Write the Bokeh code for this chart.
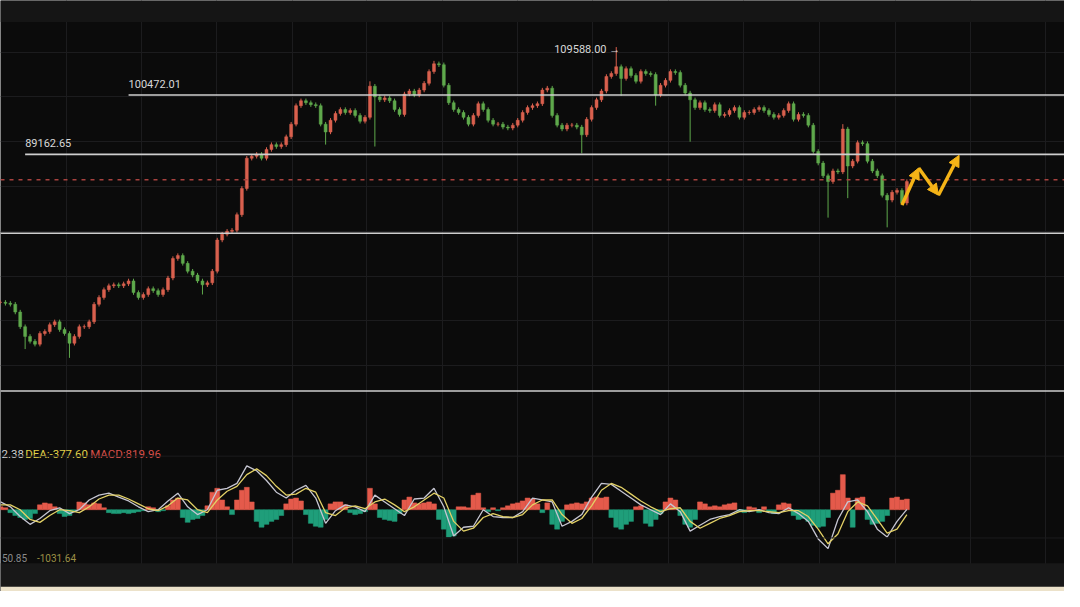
from bokeh.plotting import figure
from bokeh.models import Range1d, FixedTicker, BoxAnnotation, Span, Arrow, NormalHead
from bokeh.core.properties import value
from bokeh.embed import file_html
from bokeh.resources import INLINE

# ---------------- data ----------------
closes = [60980, 60790, 60610, 59130, 56340, 54490, 53560, 53010, 55050, 55420,
          56720, 57270, 55790, 55050, 53190, 54490, 56340, 56340, 57270, 60610,
          61910, 63390, 64130, 64320, 64130, 64500, 65060, 62830, 61910, 62460,
          63580, 63200, 62460, 63390, 65610, 69320, 69880, 68400, 66910, 66170,
          65060, 64320, 64690, 66910, 72850, 73960, 74510, 74700, 77670, 82670,
          88420, 88790, 89160, 88420, 90090, 91010, 90640, 91010, 92500, 94910,
          98430, 99360, 98990, 98620, 98430, 94910, 93420, 95650, 96950, 97690,
          97130, 97500, 96580, 95460, 96210, 102140, 100100, 99540, 99910, 99360,
          97690, 96760, 100660, 101210, 100470, 101400, 102690, 104920, 106400, 106220,
          102320, 98990, 97690, 97130, 96210, 94910, 96580, 98800, 97690, 95650,
          94910, 94910, 94350, 94170, 94720, 95650, 97130, 98060, 98430, 98800,
          101400, 101770, 96580, 94720, 93980, 94720, 94720, 94350, 92870, 95830,
          98060, 99540, 101210, 103990, 104550, 105850, 103620, 105480, 104180, 103070,
          104920, 104550, 104360, 100470, 102320, 103250, 104920, 104730, 102320, 100840,
          99540, 98060, 98990, 97690, 97500, 98620, 96580, 96760, 97500, 98060,
          96210, 97130, 97130, 97690, 98060, 97500, 96760, 96210, 96580, 97500,
          98800, 95830, 96760, 96580, 94720, 89720, 87490, 85080, 83970, 86010,
          85820, 93980, 86940, 87860, 91390, 91200, 87860, 86010, 85080, 81370,
          80450, 81930, 82300, 79890, 83970]

spike_low = {5: 52080, 14: 50410, 41: 62470, 66: 91020, 76: 90650, 118: 89350,
             126: 100290, 133: 98430, 140: 91570, 168: 77110, 172: 80820, 180: 75260}
spike_high = {75: 103070, 88: 106960, 125: 109588, 171: 94910}
wick = 420

ath_value = 109588.00
ath_index = 125

levels = [100472.01, 89162.65, 74145.0, 44110.0]
level_start = [26, 5, 0, 0]
level_text = ["100472.01", "89162.65"]
dash_level = 84342.0

# projected zig-zag path (index, price)
proj_x = [183, 186.4, 190.4, 194.6]
proj_y = [79520, 86570, 81380, 88980]

# MACD histogram, one value per candle
hist = [225, 150, -225, -450, -600, -750, -675, -300, 375, 525,
        450, 225, -300, -525, -450, -150, 600, 525, 375, 525,
        450, 150, -225, -300, -300, -225, -300, -225, -150, -75,
        225, 150, -150, -75, 300, 750, 900, -600, -975, -750,
        -675, -450, 300, 1350, 1650, 750, 225, -375, 750, 1500,
        1725, 600, -900, -1350, -1125, -900, -750, -450, 450, 825,
        900, 675, -375, -1050, -1275, -1350, -750, 450, 600, 600,
        375, -225, -375, -300, -150, 1650, 450, -600, -750, -825,
        -900, -300, 750, 975, 525, 450, 525, 600, 450, -750,
        -1500, -2100, -2025, 225, 225, 150, 1125, 1275, 150, -150,
        150, -75, 150, 300, 450, 525, 675, 900, 825, 450,
        -225, 525, -1125, -1500, -900, 375, 450, 525, 450, 600,
        900, 975, 900, 975, -600, -1350, -1500, -1125, -900, 225,
        300, -1050, -1275, -750, -300, 600, 900, 750, -450, -1125,
        -1350, -750, 600, 450, 225, 300, 225, 375, 450, 525,
        -150, -225, 225, 150, -225, 225, -150, -300, 375, 525,
        450, -450, -750, -675, -900, -1200, -1350, -1275, -600, 1275,
        1500, 2700, 900, -1350, 900, 975, -750, -1125, -1050, -900,
        -450, 900, 975, 750, 819.96]

# DIF and DEA, one value every second candle
dif = [600, 225, -525, -1125, -675, -75, 150, -300, 0, 750,
       1125, 1275, 975, 675, 225, -150, 0, 675, 1275, 225,
       -375, 0, 1500, 1650, 2025, 3375, 3000, 2250, 1350, 900,
       1500, 1875, 900, -1050, -75, 375, 225, -150, 1125, 600,
       75, -450, 825, 900, 1650, 225, -2025, -1350, -1275, 0,
       -525, -600, -600, -150, 900, 750, 600, -1275, -900, -375,
       975, 2025, 1950, 1425, 900, 375, 0, -375, 450, -150,
       -1650, -1200, -750, -525, -375, 0, -150, 0, -225, -300,
       150, -300, -900, -2250, -3000, -750, 600, 750, -150, -1500,
       -2100, -900, 32.38]
dea = [375, 375, 0, -750, -975, -450, 0, -75, -225, 225,
       825, 1125, 1125, 825, 450, 75, -75, 300, 900, 750,
       0, -225, 750, 1425, 1800, 2700, 3150, 2625, 1800, 1125,
       1200, 1650, 1350, -225, -450, 150, 300, 75, 600, 825,
       375, -150, 225, 750, 1275, 900, -900, -1650, -1425, -600,
       -300, -525, -600, -375, 375, 750, 750, -375, -1050, -675,
       300, 1500, 2025, 1725, 1200, 675, 225, -150, 75, 150,
       -900, -1425, -1050, -675, -450, -150, -75, -75, -150, -225,
       -75, -75, -525, -1500, -2625, -1875, -150, 600, 300, -750,
       -1800, -1500, -377.60]

macd_header = ["2.38", "DEA:-377.60", "MACD:819.96"]
macd_footer = ["50.85", "-1031.64"]

# grid ticks
x_grid = [13.4, 28.6, 43.8, 59.2, 74.4, 89.8, 105.0, 120.2, 135.6, 150.8, 166.2, 181.6, 197.0, 212.2]
price_grid = [108630, 100101, 91573, 83044, 74516, 65988, 57459, 48931]
macd_grid = [4125, -2175]

# ---------------- build ----------------
n = len(closes)
idx = list(range(n))
opens = [closes[0]] + closes[:-1]
highs = []
lows = []
for i in range(n):
    hi = max(opens[i], closes[i]) + wick
    lo = min(opens[i], closes[i]) - wick
    if i in spike_high:
        hi = max(hi, spike_high[i])
    if i in spike_low:
        lo = min(lo, spike_low[i])
    highs.append(hi)
    lows.append(lo)

UP = "#d9604e"
DOWN = "#5fa94c"
ccol = [UP if closes[i] >= opens[i] else DOWN for i in range(n)]

BG = "#0b0b0b"
p = figure(width=1064, height=591, x_range=Range1d(0, 216), y_range=Range1d(5918, 118456),
           output_backend="svg", toolbar_location=None, min_border=0,
           background_fill_color=BG, border_fill_color=BG, outline_line_color=None)
p.extra_y_ranges = {"macd": Range1d(-6300, 39225)}
p.axis.visible = False
p.xgrid.ticker = FixedTicker(ticks=x_grid)
p.ygrid.ticker = FixedTicker(ticks=price_grid)
p.grid.grid_line_color = "#1c1c1e"
p.grid.grid_line_width = 1

for g in macd_grid:
    p.add_layout(Span(location=g, dimension="width", y_range_name="macd",
                      line_color="#1c1c1e", line_width=1))

# top band
p.add_layout(BoxAnnotation(bottom=114377, fill_color="#151515", fill_alpha=1.0, line_color=None))

# candles
p.segment(x0=idx, y0=lows, x1=idx, y1=highs, line_color=ccol, line_width=1)
p.vbar(x=idx, width=0.6, top=[max(o, c) for o, c in zip(opens, closes)],
       bottom=[min(o, c) for o, c in zip(opens, closes)], fill_color=ccol, line_color=ccol, line_width=0.5)

# level lines
right_end = 217
p.segment(x0=level_start, y0=levels, x1=[right_end] * len(levels), y1=levels,
          line_color="#cfcfcf", line_width=1.6)
p.add_layout(Span(location=dash_level, dimension="width", line_color="#a8423f",
                  line_dash="4 5", line_width=1.5))

p.text(x=level_start[:2], y=levels[:2], text=level_text, text_font=value("Roboto"),
       text_font_size="11px", text_color="#d8d8d8", text_baseline="bottom", y_offset=-7)
p.text(x=[ath_index - 12.6], y=[ath_value], text=["%.2f \u2192" % ath_value], text_font=value("Roboto"),
       text_font_size="11px", text_color="#d8d8d8", text_baseline="middle", text_align="left", y_offset=2)

# projection arrows
for k in range(len(proj_x) - 1):
    p.add_layout(Arrow(end=NormalHead(size=11, fill_color="#f5b417", line_color="#f5b417"),
                       x_start=proj_x[k], y_start=proj_y[k], x_end=proj_x[k + 1], y_end=proj_y[k + 1],
                       line_color="#f5b417", line_width=3.5))

# MACD
hcol = ["#e45a4b" if v >= 0 else "#1f9e7a" for v in hist]
p.vbar(x=idx[:len(hist)], width=1.0, top=hist, bottom=0, y_range_name="macd",
       fill_color=hcol, line_color=hcol, line_width=0.5)
lx = [2 * k for k in range(len(dif))]
p.line(x=lx, y=dif, y_range_name="macd", line_color="#c6c6d2", line_width=1.3)
p.line(x=lx[:len(dea)], y=dea, y_range_name="macd", line_color="#e3d166", line_width=1.3)

hdr_font = "11.5px"
p.text(x=[0.2], y=[4275], text=[macd_header[0]], y_range_name="macd", text_font=value("Roboto"),
       text_font_size=hdr_font, text_color="#cfcfcf", text_baseline="middle", text_align="left")
p.text(x=[5.0], y=[4275], text=[macd_header[1]], y_range_name="macd", text_font=value("Roboto"),
       text_font_size=hdr_font, text_color="#e2d24a", text_baseline="middle", text_align="left")
p.text(x=[18.2], y=[4275], text=[macd_header[2]], y_range_name="macd", text_font=value("Roboto"),
       text_font_size=hdr_font, text_color="#d9504a", text_baseline="middle", text_align="left")
p.text(x=[0.3], y=[-3750], text=[macd_footer[0]], y_range_name="macd", text_font=value("Roboto"),
       text_font_size="10px", text_color="#8a8a8a", text_baseline="middle", text_align="left")
p.text(x=[7.4], y=[-3750], text=[macd_footer[1]], y_range_name="macd", text_font=value("Roboto"),
       text_font_size="10px", text_color="#9c9046", text_baseline="middle", text_align="left")

# bottom bands
p.add_layout(BoxAnnotation(top=11295, fill_color="#181818", fill_alpha=1.0, line_color=None))
p.add_layout(BoxAnnotation(top=6845, fill_color="#ece2ca", fill_alpha=1.0, line_color=None))

open("out.html", "w").write(file_html(p, INLINE))
